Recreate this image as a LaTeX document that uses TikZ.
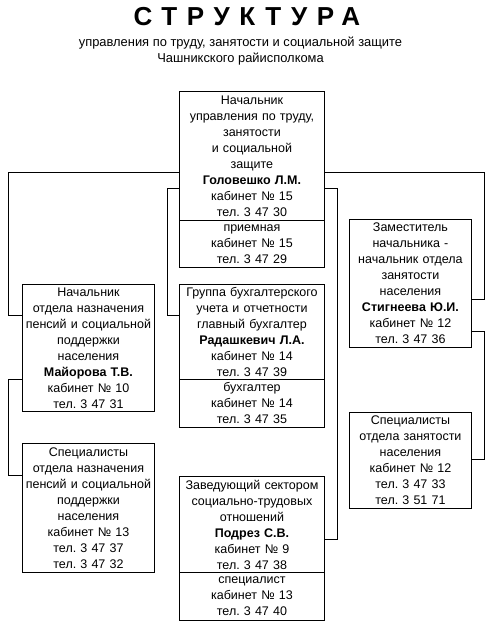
\documentclass[tikz,border=0pt]{standalone}
\usepackage{fontspec}
\setmainfont{Liberation Sans}
\newfontfamily\titlefont[LetterSpace=37]{Liberation Sans Bold}
\frenchspacing
\begin{document}
\begin{tikzpicture}[x=1pt,y=-1pt,
  box/.style={draw,line width=0.9pt,inner xsep=0pt,inner ysep=0pt,align=center,
    font=\fontsize{12.5}{16}\selectfont},
  conn/.style={line width=0.9pt}]
\useasboundingbox[fill=white] (0,0) rectangle (497,628);
\node[font=\titlefont\fontsize{26}{28}\selectfont,anchor=base] (title) at (247,26) {СТРУКТУРА};
\node[font=\fontsize{12.9}{16}\selectfont,anchor=base,align=center] (sub) at (240.5,46.5) {управления по труду, занятости и социальной защите};
\node[font=\fontsize{12.9}{16}\selectfont,anchor=base,align=center] (sub2) at (240.5,62.5) {Чашникского райисполкома};
% boxes
\newcommand{\bx}[6]{\node[box,text width=#4-#2,minimum height=#5-#3,anchor=north west] (#1) at (#2,#3) {#6};}
\bx{main}{179}{91}{324}{220}{Начальник\\управления по труду,\\занятости\\и социальной\\защите\\\textbf{Головешко Л.М.}\\кабинет № 15\\тел. 3 47 30}
\bx{priem}{179}{220}{324}{267}{приемная\\кабинет № 15\\тел. 3 47 29}
\bx{left1}{22}{284}{154}{411}{Начальник\\отдела назначения\\пенсий и социальной\\поддержки\\населения\\\textbf{Майорова Т.В.}\\кабинет № 10\\тел. 3 47 31}
\bx{left2}{22}{443}{154}{572}{Специалисты\\отдела назначения\\пенсий и социальной\\поддержки\\населения\\кабинет № 13\\тел. 3 47 37\\тел. 3 47 32}
\bx{mid1}{179}{284}{324}{379}{Группа бухгалтерского\\учета и отчетности\\главный бухгалтер\\\textbf{Радашкевич Л.А.}\\кабинет № 14\\тел. 3 47 39}
\bx{mid1b}{179}{379}{324}{427}{бухгалтер\\кабинет № 14\\тел. 3 47 35}
\bx{mid2}{179}{476}{324}{572}{Заведующий сектором\\социально-трудовых\\отношений\\\textbf{Подрез С.В.}\\кабинет № 9\\тел. 3 47 38}
\bx{mid2b}{179}{572}{324}{620}{специалист\\кабинет № 13\\тел. 3 47 40}
\bx{right1}{349}{219}{471}{347}{Заместитель\\начальника -\\начальник отдела\\занятости\\населения\\\textbf{Стигнеева Ю.И.}\\кабинет № 12\\тел. 3 47 36}
\bx{right2}{349}{412}{471}{508}{Специалисты\\отдела занятости\\населения\\кабинет № 12\\тел. 3 47 33\\тел. 3 51 71}
% helper coordinates
\coordinate (yA) at (0,172);
\coordinate (yB) at (0,188);
\coordinate (yL1) at (0,315);
\coordinate (yL1b) at (0,379);
\coordinate (yL2) at (0,475);
\coordinate (yR1) at (0,299);
\coordinate (yR1b) at (0,331);
\coordinate (yR2) at (0,459);
\coordinate (yM1) at (0,315);
\coordinate (yM2) at (0,539);
\coordinate (xL) at (8,0);
\coordinate (xR) at (484,0);
\coordinate (xML) at (167,0);
\coordinate (xMR) at (337,0);
% connectors
\draw[conn] (main.west |- yA) -- (xL |- yA) -- (xL |- yL1) -- (left1.west |- yL1);
\draw[conn] (main.east |- yA) -- (xR |- yA) -- (xR |- yR1) -- (right1.east |- yR1);
\draw[conn] (main.west |- yB) -- (xML |- yB) -- (xML |- yM1) -- (mid1.west |- yM1);
\draw[conn] (main.east |- yB) -- (xMR |- yB) -- (xMR |- yM2) -- (mid2.east |- yM2);
\draw[conn] (left1.west |- yL1b) -- (xL |- yL1b) -- (xL |- yL2) -- (left2.west |- yL2);
\draw[conn] (right1.east |- yR1b) -- (xR |- yR1b) -- (xR |- yR2) -- (right2.east |- yR2);
\end{tikzpicture}
\end{document}
